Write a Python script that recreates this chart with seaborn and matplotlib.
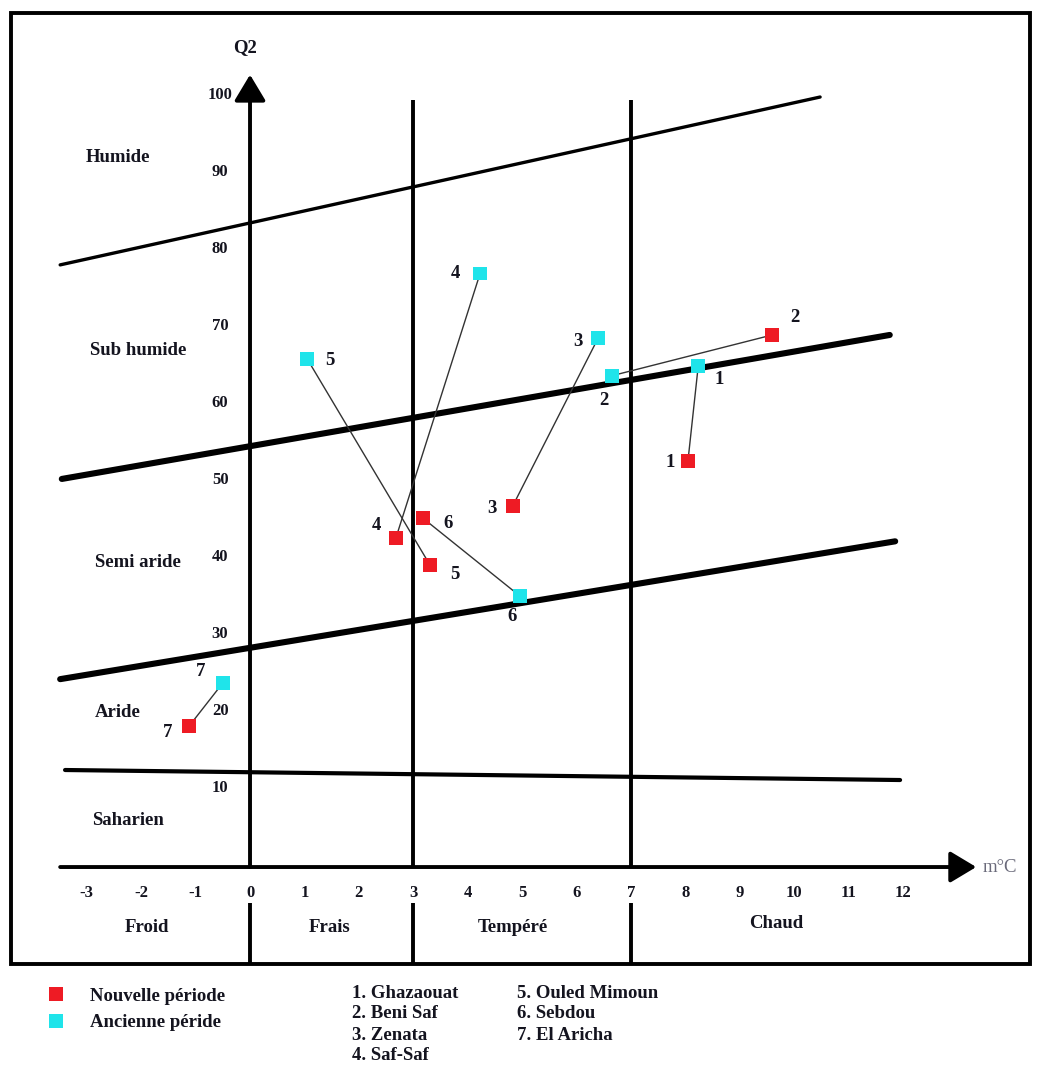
import matplotlib
matplotlib.use("Agg")
import matplotlib.pyplot as plt
import seaborn as sns
import pandas as pd
from matplotlib.patches import Rectangle
from matplotlib.lines import Line2D

# ---------------- data ----------------
stations = ["Ghazaouat", "Beni Saf", "Zenata", "Saf-Saf", "Ouled Mimoun", "Sebdou", "El Aricha"]
station_ids = [1, 2, 3, 4, 5, 6, 7]
# Nouvelle période
new_m = [8.05, 9.60, 4.83, 2.68, 3.31, 3.18, -1.12]
new_q2 = [52.7, 69.1, 46.9, 42.7, 39.2, 45.3, 18.3]
# Ancienne période
old_m = [8.24, 6.65, 6.40, 4.23, 1.05, 4.96, -0.50]
old_q2 = [65.1, 63.8, 68.7, 77.1, 66.0, 35.2, 23.9]

# bioclimatic boundaries (start / end points)
bound_m0 = [-3.49, -3.46, -3.49, -3.40]
bound_q0 = [78.2, 50.4, 24.4, 12.6]
bound_m1 = [10.48, 11.76, 11.86, 11.95]
bound_q1 = [100.0, 69.1, 42.3, 11.3]
bound_lw = [2.4, 4.4, 4.4, 3.0]

# thermal boundaries (m in °C)
thermal_m = [0, 3, 7]

zones = ["Humide", "Sub humide", "Semi aride", "Aride", "Saharien"]
winters = ["Froid", "Frais", "Tempéré", "Chaud"]

xticks = [-3, -2, -1, 0, 1, 2, 3, 4, 5, 6, 7, 8, 9, 10, 11, 12]
yticks = [10, 20, 30, 40, 50, 60, 70, 80, 90, 100]

RED = "#EE1B24"
CYAN = "#1FE4EA"
TXT = "#14141f"

# ---------------- figure ----------------
sns.set_theme(style="white")
plt.rcParams["font.family"] = ["Liberation Serif", "DejaVu Serif"]
plt.rcParams["font.weight"] = "bold"
FS = 13.5

fig = plt.figure(figsize=(10.37, 10.66), dpi=100)
ax = fig.add_axes([0, 0, 1, 1])
ax.set_xlim(-4.596, 14.467)
ax.set_ylim(-25.84, 112.6)
ax.axis("off")

# outer frame
ax.add_patch(Rectangle((0.0106, 0.0957), 0.9826, 0.8921, transform=ax.transAxes,
                       fill=False, lw=2.8, ec="black", zorder=1))

# axes with arrows
arrow = dict(arrowstyle="-|>,head_length=1.0,head_width=0.6", lw=2.8, color="black",
             mutation_scale=16, shrinkA=0, shrinkB=0)
ax.annotate("", xy=(13.35, 0), xytext=(-3.49, 0), arrowprops=arrow, zorder=3)
ax.annotate("", xy=(0, 102.9), xytext=(0, 0), arrowprops=arrow, zorder=3)

# thermal vertical lines
for m in thermal_m:
    if m != 0:
        ax.plot([m, m], [0, 99.6], color="black", lw=2.8, zorder=3, solid_capstyle="butt")
    ax.plot([m, m], [-4.7, -12.6], color="black", lw=2.8, zorder=3, solid_capstyle="butt")

# bioclimatic boundaries
for a, b, c, d, w in zip(bound_m0, bound_q0, bound_m1, bound_q1, bound_lw):
    ax.plot([a, c], [b, d], color="black", lw=w, zorder=3, solid_capstyle="round")

# station connection lines
for om, oq, nm, nq in zip(old_m, old_q2, new_m, new_q2):
    ax.plot([om, nm], [oq, nq], color="#333333", lw=1.0, zorder=4)

# points
df = pd.DataFrame({
    "m": new_m + old_m,
    "Q2": new_q2 + old_q2,
    "Période": ["Nouvelle période"] * 7 + ["Ancienne péride"] * 7,
    "id": station_ids + station_ids,
})
sns.scatterplot(data=df, x="m", y="Q2", hue="Période",
                palette={"Nouvelle période": RED, "Ancienne péride": CYAN},
                marker="s", s=95, linewidth=0, ax=ax, legend=False, zorder=5)

# point labels (offsets in pixels)
new_off = [(-18, -1), (23, 17), (-21, -3), (-19, 13), (25, -9), (25, -5), (-21, -6)]
old_off = [(21, -14), (-8, -25), (-20, -3), (-25, 0), (23, -2), (-8, -21), (-22, 11)]
for i, sid in enumerate(station_ids):
    ax.annotate(str(sid), (new_m[i], new_q2[i]), xytext=new_off[i], textcoords="offset pixels",
                ha="center", va="center", fontsize=FS, color=TXT, fontweight="bold", zorder=6)
    ax.annotate(str(sid), (old_m[i], old_q2[i]), xytext=old_off[i], textcoords="offset pixels",
                ha="center", va="center", fontsize=FS, color=TXT, fontweight="bold", zorder=6)

# tick labels
for t in xticks:
    ax.text(t, -3.4, str(t), ha="center", va="center", fontsize=FS - 1.5, color=TXT)
for t in yticks:
    ax.text(-0.55, t + 0.3, str(t), ha="center", va="center", fontsize=FS - 1.5, color=TXT)

ax.text(-0.09, 106.4, "Q2", ha="center", va="center", fontsize=FS, color=TXT)
ax.text(13.47, 0, "m°C", ha="left", va="center", fontsize=FS, color="#6a6a7a", fontweight="normal")

# zone labels
zone_pos = [(-2.43, 92.2), (-2.06, 67.1), (-2.06, 39.5), (-2.43, 20.1), (-2.24, 6.1)]
for z, (x, y) in zip(zones, zone_pos):
    ax.text(x, y, z, ha="center", va="center", fontsize=FS, color=TXT)
winter_pos = [(-1.89, -7.9), (1.47, -7.8), (4.83, -7.8), (9.67, -7.3)]
for w, (x, y) in zip(winters, winter_pos):
    ax.text(x, y, w, ha="center", va="center", fontsize=FS, color=TXT)

# legend
handles = [Line2D([], [], marker="s", ls="", color=RED, markersize=9.5, markeredgewidth=0),
           Line2D([], [], marker="s", ls="", color=CYAN, markersize=9.5, markeredgewidth=0)]
leg = fig.legend(handles, ["Nouvelle période", "Ancienne péride"], loc="upper left",
                 bbox_to_anchor=(0.045, 0.0735), frameon=False, borderpad=0, borderaxespad=0,
                 handlelength=1.0, handletextpad=1.3, labelspacing=0.5,
                 prop={"family": ["Liberation Serif"], "weight": "bold", "size": FS})
for t in leg.get_texts():
    t.set_color(TXT)

# station list
for i, (sid, name) in enumerate(zip(station_ids, stations)):
    col = 0 if i < 4 else 1
    row = i if i < 4 else i - 4
    x = (352 if col == 0 else 517) / 1037
    y = 1 - (993 + 21 * row) / 1066
    fig.text(x, y, f"{sid}. {name}", ha="left", va="center", fontsize=FS, color=TXT)

fig.savefig("out.png", dpi=100)
